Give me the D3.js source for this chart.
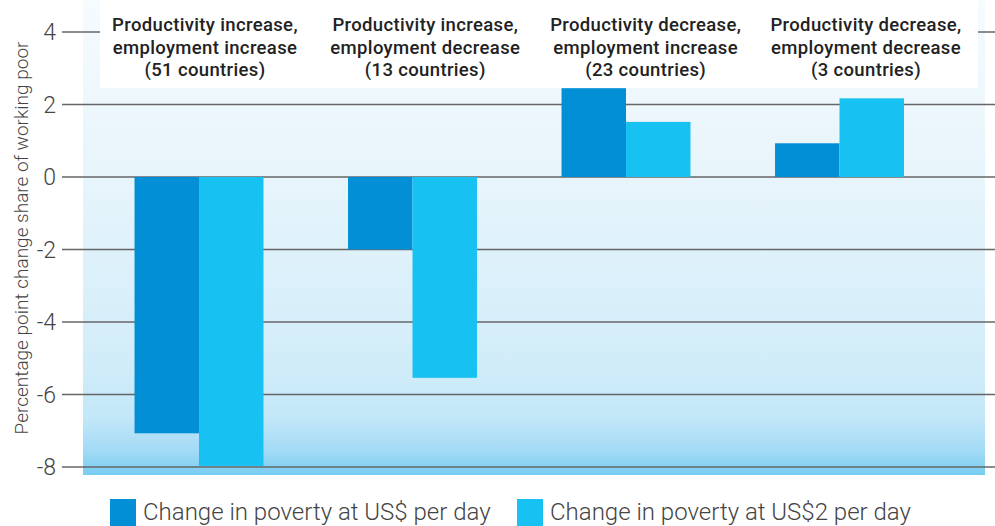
<!DOCTYPE html>
<html><head><meta charset="utf-8">
<script src="https://cdn.jsdelivr.net/npm/d3@7"></script>
<style>body{margin:0;background:#fff}svg{display:block}</style>
</head><body>
<svg id="c" width="995" height="526"></svg>
<script>
const groups = ["g1","g2","g3","g4"];
const groupLabels = [
  ["Productivity increase,","employment increase","(51 countries)"],
  ["Productivity increase,","employment decrease","(13 countries)"],
  ["Productivity decrease,","employment increase","(23 countries)"],
  ["Productivity decrease,","employment decrease","(3 countries)"]
];
const seriesNames = ["Change in poverty at US$ per day","Change in poverty at US$2 per day"];
const poverty1 = [-7.07, -2.0, 2.45, 0.93];
const poverty2 = [-7.97, -5.54, 1.52, 2.17];
const yTicks = [4, 2, 0, -2, -4, -6, -8];
const colors = ["#038fd6", "#17c1f2"];

const svg = d3.select("#c");
const y = d3.scaleLinear().domain([-8, 4]).range([467, 32]);
const x = d3.scaleBand().domain(groups).range([92.25, 946.25]).paddingInner(0.396).paddingOuter(0.198);
const xs = d3.scaleBand().domain([0,1]).range([0, x.bandwidth()]);
const xl = d3.scalePoint().domain(groups).range([205, 866]);

const defs = svg.append("defs");
const grad = defs.append("linearGradient").attr("id","bg").attr("x1",0).attr("y1",0).attr("x2",0).attr("y2",1);
[[0,"#f6fbfe"],[0.4,"#e6f4fb"],[0.78,"#d0ecf9"],[0.88,"#c2e7f8"],[0.95,"#a2daf5"],[1,"#76cdf2"]]
  .forEach(([o,c])=>grad.append("stop").attr("offset",o).attr("stop-color",c));

svg.append("rect").attr("x",83).attr("y",0).attr("width",985-83).attr("height",475).attr("fill","url(#bg)");

// grid lines
svg.append("g").selectAll("line").data(yTicks).join("line")
  .attr("x1",62).attr("x2",995).attr("y1",d=>y(d)).attr("y2",d=>y(d))
  .attr("stroke","#666").attr("stroke-width",1.6);

// white header box
svg.append("rect").attr("x",100).attr("y",0).attr("width",978-100).attr("height",88).attr("fill","#fff");

// tick labels
svg.append("g").selectAll("text").data(yTicks).join("text")
  .attr("x",56).attr("y",d=>y(d)).attr("dy","0.36em").attr("text-anchor","end")
  .attr("font-family","Roboto").attr("font-weight",300).attr("font-size",23).attr("fill","#444")
  .text(d=>d<0?"-"+Math.abs(d):d);

// bars
const series = [poverty1, poverty2];
series.forEach((vals,si)=>{
  svg.append("g").selectAll("rect").data(groups).join("rect")
    .attr("x",(g)=>x(g)+xs(si)).attr("width",xs.bandwidth())
    .attr("y",(g,i)=>y(Math.max(0,vals[i])))
    .attr("height",(g,i)=>Math.abs(y(vals[i])-y(0)))
    .attr("fill",colors[si]);
});

// group labels
const gl = svg.append("g").selectAll("text").data(groups).join("text")
  .attr("text-anchor","middle").attr("font-family","Roboto").attr("font-weight",500)
  .attr("font-size",18.5).attr("letter-spacing",0.35).attr("fill","#222");
gl.each(function(g,i){
  d3.select(this).selectAll("tspan").data(groupLabels[i]).join("tspan")
    .attr("x",xl(g)).attr("y",(d,j)=>31+j*22.5).text(d=>d);
});

// y axis title
svg.append("text").attr("transform","translate(28,238) rotate(-90)")
  .attr("text-anchor","middle").attr("font-family","Roboto").attr("font-weight",300)
  .attr("font-size",19).attr("fill","#444")
  .text("Percentage point change share of working poor");

// legend
const legX = [110, 517];
seriesNames.forEach((n,i)=>{
  svg.append("rect").attr("x",legX[i]).attr("y",499).attr("width",26).attr("height",27).attr("fill",colors[i]);
  svg.append("text").attr("x",legX[i]+33).attr("y",520).attr("font-family","Roboto").attr("font-weight",300)
    .attr("font-size",24).attr("fill","#444").text(n);
});
</script>
</body></html>
